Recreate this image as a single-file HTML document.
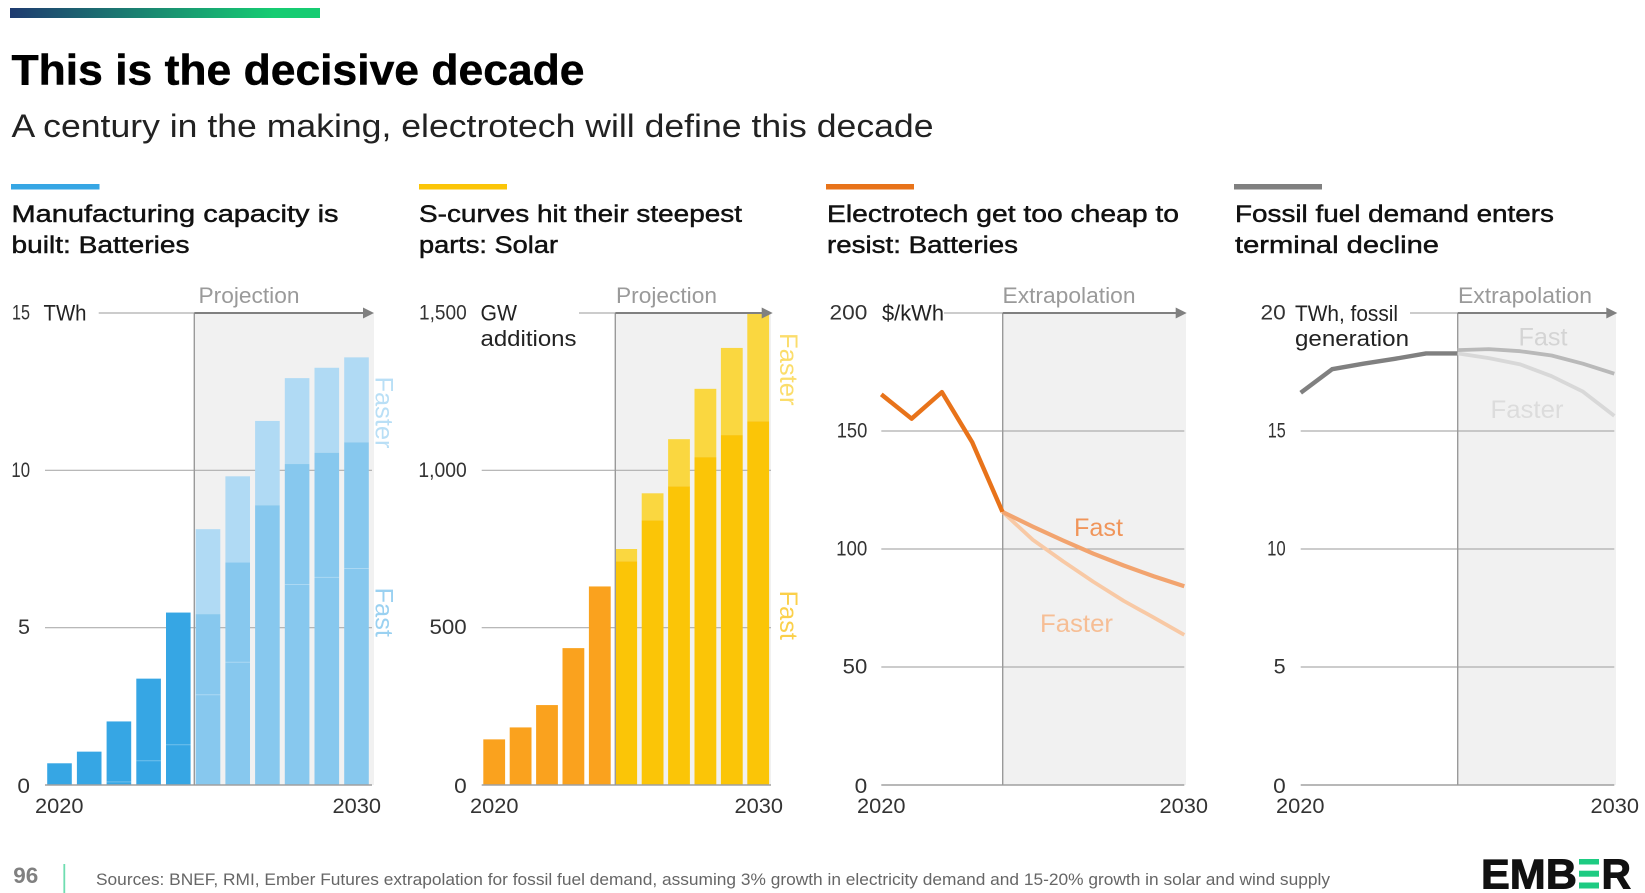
<!DOCTYPE html>
<html lang="en">
<head>
<meta charset="utf-8">
<title>This is the decisive decade</title>
<style>
html,body{margin:0;padding:0;background:#fff;width:1645px;height:893px;overflow:hidden}
svg{display:block;font-family:"Liberation Sans",sans-serif}
</style>
</head>
<body>
<svg id="slide" xmlns="http://www.w3.org/2000/svg" width="1645" height="893" viewBox="0 0 1645 893">
<defs>
<linearGradient id="topGrad" x1="0" x2="1" y1="0" y2="0">
<stop offset="0" stop-color="#1F3B70"/><stop offset="0.85" stop-color="#16CC72"/><stop offset="1" stop-color="#16CC72"/>
</linearGradient>
</defs>
<rect x="10" y="8" width="310" height="10" fill="url(#topGrad)"/>
<text x="11.5" y="84.5" font-size="43" font-weight="700" fill="#000" stroke="#000" stroke-width="0.5" textLength="573" lengthAdjust="spacingAndGlyphs">This is the decisive decade</text>
<text x="11.5" y="137" font-size="32" fill="#222" textLength="922" lengthAdjust="spacingAndGlyphs">A century in the making, electrotech will define this decade</text>

<rect x="11" y="184" width="88.5" height="5.5" fill="#36A6E4"/>
<rect x="419" y="184" width="88" height="5.5" fill="#FBC507"/>
<rect x="826" y="184" width="88" height="5.5" fill="#E8731A"/>
<rect x="1234" y="184" width="88" height="5.5" fill="#808080"/>

<g fill="#111" font-size="24" stroke="#111" stroke-width="0.45">
<text x="11.5" y="222" textLength="327" lengthAdjust="spacingAndGlyphs">Manufacturing capacity is</text>
<text x="11.5" y="253" textLength="178" lengthAdjust="spacingAndGlyphs">built: Batteries</text>
<text x="419" y="222" textLength="323" lengthAdjust="spacingAndGlyphs">S-curves hit their steepest</text>
<text x="419" y="253" textLength="139" lengthAdjust="spacingAndGlyphs">parts: Solar</text>
<text x="827" y="222" textLength="352" lengthAdjust="spacingAndGlyphs">Electrotech get too cheap to</text>
<text x="827" y="253" textLength="191" lengthAdjust="spacingAndGlyphs">resist: Batteries</text>
<text x="1235" y="222" textLength="319" lengthAdjust="spacingAndGlyphs">Fossil fuel demand enters</text>
<text x="1235" y="253" textLength="204" lengthAdjust="spacingAndGlyphs">terminal decline</text>
</g>

<g id="chart-batteries"></g>
<g id="chart-solar"></g>
<g id="chart-cost"></g>
<g id="chart-fossil"></g>

<text x="13.3" y="883" font-size="22" font-weight="700" fill="#808080" textLength="25" lengthAdjust="spacingAndGlyphs">96</text>
<rect x="63.4" y="864" width="1.8" height="29" fill="#6FDDB0"/>
<text x="96" y="885" font-size="16.5" fill="#666" textLength="1234" lengthAdjust="spacingAndGlyphs">Sources: BNEF, RMI, Ember Futures extrapolation for fossil fuel demand, assuming 3% growth in electricity demand and 15-20% growth in solar and wind supply</text>
<g>
<text x="1481" y="888.5" font-size="42" font-weight="700" fill="#111" stroke="#111" stroke-width="1" textLength="96" lengthAdjust="spacingAndGlyphs">EMB</text>
<rect x="1579" y="859" width="20" height="5.5" fill="#1ECB82"/>
<rect x="1579" y="870.7" width="20" height="6" fill="#1ECB82"/>
<rect x="1579" y="882.5" width="20" height="6" fill="#1ECB82"/>
<text x="1601.5" y="888.5" font-size="42" font-weight="700" fill="#111" stroke="#111" stroke-width="1" textLength="29.5" lengthAdjust="spacingAndGlyphs">R</text>
</g>
</svg>

<script>
/* Shared */
const years = [2020,2021,2022,2023,2024,2025,2026,2027,2028,2029,2030];

/* Batteries manufacturing capacity (TWh) */
const batteryTicks = [0,5,10,15];
const batteryActual = [0.69,1.06,2.02,3.38,5.48];
const batteryInner = [0,0,0.1,0.77,1.28,2.87,3.9,0,6.37,6.6,6.88];
const batteryFast = [0,0,0,0,0,5.43,7.07,8.89,10.2,10.56,10.89];
const batteryFaster = [0,0,0,0,0,8.13,9.81,11.57,12.93,13.26,13.59];

/* Solar additions (GW) */
const solarTicks = [0,500,1000,1500];
const solarActual = [145,183,254,435,631];
const solarFast = [0,0,0,0,0,711,841,949,1042,1112,1156];
const solarFaster = [0,0,0,0,0,750,927,1099,1259,1389,1497];

/* Battery cost ($/kWh) */
const costTicks = [0,50,100,150,200];
const costActual = [165.5,155.2,166.5,145.2,115.7];
const costFast = [115.7,109.5,103.6,98,93,88.4,84.2];
const costFaster = [115.7,103.9,94.8,86.1,78,70.9,63.6];

/* Fossil generation (TWh) */
const fossilTicks = [0,5,10,15,20];
const fossilActual = [16.62,17.62,17.85,18.06,18.29,18.29];
const fossilFast = [18.43,18.47,18.38,18.2,17.85,17.43];
const fossilFaster = [18.29,18.09,17.82,17.32,16.67,15.64];

const NS = 'http://www.w3.org/2000/svg';
const Y0 = 785, Y1 = 313;

function make(parent, tag, attrs, text){
  const el = document.createElementNS(NS, tag);
  for (const k in attrs) el.setAttribute(k, attrs[k]);
  if (text !== undefined) el.textContent = text;
  parent.appendChild(el);
  return el;
}
function fmt(v){ return v >= 1000 ? String(v).replace(/(\d)(\d{3})$/, '$1,$2') : String(v); }
function labelWidth(s){
  let w = 0;
  for (const c of s) w += c === '1' ? 6 : c === ',' ? 4.5 : c === '5' ? 12 : 12.6;
  return w;
}

function frame(root, o){
  const y = v => Y0 - (v / o.max) * (Y0 - Y1);
  const box = make(root, 'rect', {x:o.boxX, y:Y1, width:o.boxR - o.boxX, height:Y0 - Y1, fill:'#F1F1F1'});
  
  
  o.ticks.forEach(t => {
    if (t !== o.max && t !== 0) {
      const g = make(root, 'line', {x1:o.axL, x2:o.axR, y1:y(t), y2:y(t), stroke:'#AEAEAE', 'stroke-width':1.2});
      
      
    }
    const s = fmt(t);
    const w = labelWidth(s);
    const lab = make(root, 'text', {x:o.tickX - w, y:y(t) + (t === 0 ? 8 : 6.5), 'font-size':21.5, fill:'#333', textLength:w, lengthAdjust:'spacingAndGlyphs'}, s);
    
    
  });
  return y;
}
function overlay(root, o){
  const base = make(root, 'line', {x1:o.axL, x2:o.axR, y1:Y0, y2:Y0, stroke:'#A0A0A0', 'stroke-width':1.6});
  
  
  const v = make(root, 'line', {x1:o.boxX, x2:o.boxX, y1:Y1, y2:Y0, stroke:'#9A9A9A', 'stroke-width':1.4});
  
  
  const a1 = make(root, 'line', {x1:o.arrowL, x2:o.boxX, y1:Y1, y2:Y1, stroke:'#9A9A9A', 'stroke-width':1});
  
  
  const a2 = make(root, 'line', {x1:o.boxX, x2:o.arrowR - 8, y1:Y1, y2:Y1, stroke:'#808080', 'stroke-width':2});
  
  
  const h = make(root, 'polygon', {points:`${o.arrowR},${Y1} ${o.arrowR-11},${Y1-5.5} ${o.arrowR-11},${Y1+5.5}`, fill:'#808080'});
  
  
  const p = make(root, 'text', {x:o.capX, y:303, 'font-size':22, fill:'#9A9A9A', textLength:o.capW, lengthAdjust:'spacingAndGlyphs'}, o.caption);
  
  
  const x1 = make(root, 'text', {x:o.x20, y:813, 'font-size':21.5, fill:'#333', textLength:48.5, lengthAdjust:'spacingAndGlyphs'}, String(years[0]));
  
  
  const x2 = make(root, 'text', {x:o.x30, y:813, 'font-size':21.5, fill:'#333', textLength:48.5, lengthAdjust:'spacingAndGlyphs'}, String(years[10]));
  
  
  o.units.forEach(u => {
    const t = make(root, 'text', {x:u.x, y:u.y, 'font-size':22, fill:'#222', textLength:u.w, lengthAdjust:'spacingAndGlyphs'}, u.t);
    
    
  });
}
function sideLabel(root, text, x, yTop, len, color){
  const t = make(root, 'text', {x:0, y:0, 'font-size':25, fill:color, textLength:len, lengthAdjust:'spacingAndGlyphs', transform:`translate(${x},${yTop}) rotate(90)`}, text);
  
  
}
function inlineLabel(root, text, x, y, len, color){
  const t = make(root, 'text', {x:x, y:y, 'font-size':25, fill:color, textLength:len, lengthAdjust:'spacingAndGlyphs'}, text);
  
  
}
function bar(root, name, x, w, y, yBase, fill){
  const r = make(root, 'rect', {x:x, y:y, width:w, height:Math.max(0, yBase - y), fill:fill});
  
  
  return r;
}
function polyline(root, name, pts, color, width){
  const p = make(root, 'polyline', {points:pts.map(q => q[0].toFixed(1) + ',' + q[1].toFixed(1)).join(' '), fill:'none', stroke:color, 'stroke-width':width, 'stroke-linejoin':'round'});
  
  
}

/* ---------- Batteries ---------- */
(function(){
  const root = document.getElementById('chart-batteries');
  const o = {max:15, ticks:batteryTicks, axL:45, axR:372, boxX:194.3, boxR:374, tickX:30, arrowL:98.7, arrowR:374,
    caption:'Projection', capX:198.5, capW:101, x20:35, x30:332.5,
    units:[{t:'TWh', x:43.5, y:320.5, w:43}]};
  const y = frame(root, o);
  const bx = i => 59.5 + i * 29.7;
  const w = 24.6;
  years.forEach((yr, i) => {
    const x = bx(i) - w / 2;
    if (i < batteryActual.length) {
      bar(root, 'bar-actual-' + yr, x, w, y(batteryActual[i]), Y0, '#36A6E4');
    } else {
      bar(root, 'bar-faster-' + yr, x, w, y(batteryFaster[i]), y(batteryFast[i]), '#B0DAF4');
      bar(root, 'bar-fast-' + yr, x, w, y(batteryFast[i]), Y0, '#87C8EE');
    }
    if (batteryInner[i] > 0) {
      const l = make(root, 'line', {x1:x, x2:x + w, y1:y(batteryInner[i]), y2:y(batteryInner[i]), stroke:'#fff', 'stroke-opacity':0.3, 'stroke-width':1});
      
      
    }
  });
  overlay(root, o);
  sideLabel(root, 'Faster', 375.5, 376.5, 72, '#B9DFF6');
  sideLabel(root, 'Fast', 375.5, 587.5, 49.5, '#9AD1F1');
})();

/* ---------- Solar ---------- */
(function(){
  const root = document.getElementById('chart-solar');
  const o = {max:1500, ticks:solarTicks, axL:481.7, axR:771, boxX:615.3, boxR:771, tickX:466.7, arrowL:579, arrowR:772.7,
    caption:'Projection', capX:616, capW:101, x20:470, x30:734.5,
    units:[{t:'GW', x:480.5, y:320.5, w:36.5},{t:'additions', x:480.5, y:346, w:96}]};
  const y = frame(root, o);
  const bx = i => 494.2 + i * 26.4;
  const w = 21.8;
  years.forEach((yr, i) => {
    const x = bx(i) - w / 2;
    if (i < solarActual.length) {
      bar(root, 'bar-actual-' + yr, x, w, y(solarActual[i]), Y0, '#FAA21E');
    } else {
      bar(root, 'bar-faster-' + yr, x, w, y(solarFaster[i]), y(solarFast[i]), '#FAD740');
      bar(root, 'bar-fast-' + yr, x, w, y(solarFast[i]), Y0, '#FBC507');
    }
  });
  overlay(root, o);
  sideLabel(root, 'Faster', 780, 333, 72.5, '#FBDD6B');
  sideLabel(root, 'Fast', 780, 590.5, 49.5, '#FBD04A');
})();

/* ---------- Cost ---------- */
(function(){
  const root = document.getElementById('chart-cost');
  const o = {max:200, ticks:costTicks, axL:881.3, axR:1184.3, boxX:1002.7, boxR:1186, tickX:867.3, arrowL:944, arrowR:1186.7,
    caption:'Extrapolation', capX:1002.5, capW:133, x20:857, x30:1159.5,
    units:[{t:'$/kWh', x:882, y:320.5, w:62}]};
  const y = frame(root, o);
  const x = i => 881.3 + i * 30.3;
  overlay(root, o);
  const split = costActual.length - 1;
  polyline(root, 'line-faster', costFaster.map((v, i) => [x(split + i), y(v)]), '#F8C9A5', 3.8);
  polyline(root, 'line-fast', costFast.map((v, i) => [x(split + i), y(v)]), '#F2A46F', 4.2);
  polyline(root, 'line-actual', costActual.map((v, i) => [x(i), y(v)]), '#E8731A', 4.4);
  inlineLabel(root, 'Fast', 1074, 536, 49, '#F0955A');
  inlineLabel(root, 'Faster', 1040, 632, 73, '#F6BE95');
})();

/* ---------- Fossil ---------- */
(function(){
  const root = document.getElementById('chart-fossil');
  const o = {max:20, ticks:fossilTicks, axL:1300.7, axR:1614.3, boxX:1457.7, boxR:1616, tickX:1285.7, arrowL:1410, arrowR:1617.3,
    caption:'Extrapolation', capX:1458, capW:134, x20:1276, x30:1590.5,
    units:[{t:'TWh, fossil', x:1295, y:321, w:103},{t:'generation', x:1295, y:346, w:114}]};
  const y = frame(root, o);
  const x = i => 1300.7 + i * 31.36;
  overlay(root, o);
  const split = fossilActual.length - 1;
  polyline(root, 'line-faster', fossilFaster.map((v, i) => [x(split + i), y(v)]), '#D8D8D8', 3.8);
  polyline(root, 'line-fast', fossilFast.map((v, i) => [x(split + i), y(v)]), '#B9B9B9', 3.8);
  polyline(root, 'line-actual', fossilActual.map((v, i) => [x(i), y(v)]), '#808080', 4.4);
  inlineLabel(root, 'Fast', 1518.5, 345.7, 49, '#D4D4D4');
  inlineLabel(root, 'Faster', 1490.5, 418, 73, '#DCDCDC');
})();
</script>
</body>
</html>
